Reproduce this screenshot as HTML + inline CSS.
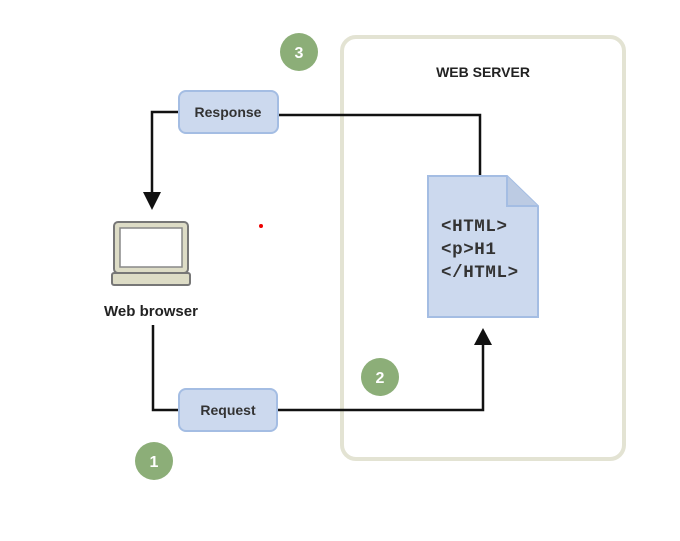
<!DOCTYPE html>
<html><head><style>body{margin:0;background:#fff}</style></head><body>
<svg width="680" height="536" viewBox="0 0 680 536" xmlns="http://www.w3.org/2000/svg" font-family="Liberation Sans, sans-serif">
<rect x="342" y="37" width="282" height="422" rx="14" fill="none" stroke="#e3e3d3" stroke-width="4"/>
<text x="483" y="77" font-size="14" font-weight="bold" text-anchor="middle" fill="#222">WEB SERVER</text>
<g fill="#8cae78"><circle cx="299" cy="52" r="19"/><circle cx="380" cy="377" r="19"/><circle cx="154" cy="461" r="19"/></g>
<g fill="#fff" font-size="16" font-weight="bold" text-anchor="middle"><text x="299" y="58">3</text><text x="380" y="383">2</text><text x="154" y="467">1</text></g>
<g fill="none" stroke="#111" stroke-width="2.5">
<polyline points="179,112 152,112 152,195"/>
<polyline points="278,115 480,115 480,175"/>
<polyline points="153,325 153,410 179,410"/>
<polyline points="277,410 483,410 483,340"/>
</g>
<polygon points="143,192 161,192 152,210" fill="#111"/>
<polygon points="474,345 492,345 483,328" fill="#111"/>
<rect x="179" y="91" width="99" height="42" rx="7" fill="#ccd9ee" stroke="#a4bde3" stroke-width="2"/>
<text x="228" y="117" font-size="14" font-weight="bold" text-anchor="middle" fill="#333">Response</text>
<rect x="179" y="389" width="98" height="42" rx="7" fill="#ccd9ee" stroke="#a4bde3" stroke-width="2"/>
<text x="228" y="415" font-size="14" font-weight="bold" text-anchor="middle" fill="#333">Request</text>
<path d="M428,176 L507,176 L538,206 L538,317 L428,317 Z" fill="#ccd9ee" stroke="#a4bde3" stroke-width="2"/>
<path d="M507,176 L507,206 L538,206" fill="#bccbe3" stroke="#a4bde3" stroke-width="2"/>
<g font-family="Liberation Mono, monospace" font-size="17.5" font-weight="bold" fill="#333" letter-spacing="0.6">
<text x="441" y="231">&lt;HTML&gt;</text><text x="441" y="254">&lt;p&gt;H1</text><text x="441" y="277">&lt;/HTML&gt;</text></g>
<rect x="114" y="222" width="74" height="51" rx="4" fill="#dddcc6" stroke="#777" stroke-width="2"/>
<rect x="120" y="228" width="62" height="39" fill="#fff" stroke="#888" stroke-width="1.5"/>
<rect x="112" y="273" width="78" height="12" rx="2" fill="#dddcc6" stroke="#777" stroke-width="2"/>
<text x="151" y="316" font-size="15" font-weight="bold" text-anchor="middle" fill="#222">Web browser</text>
<circle cx="261" cy="226" r="2" fill="#e00"/>
</svg>
</body></html>
